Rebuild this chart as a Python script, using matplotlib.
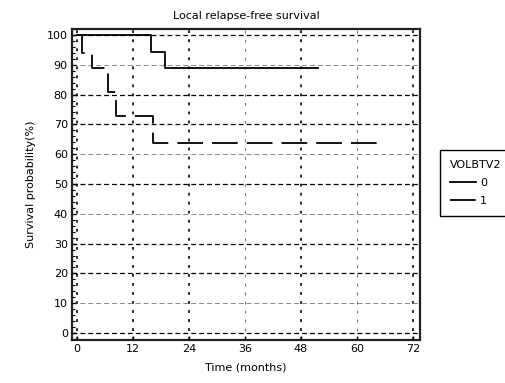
import matplotlib
matplotlib.use("Agg")
import matplotlib.pyplot as plt
from matplotlib.ticker import MultipleLocator

# Kaplan-Meier step values (time in months, survival in %)
time_0 = [0, 15.8, 18.8, 51.6]
surv_0 = [100, 94.4, 88.9, 88.9]

time_1 = [0, 1.1, 3.3, 6.6, 8.4, 16.2, 64.3]
surv_1 = [100, 94.0, 88.8, 81.0, 72.8, 63.7, 63.7]

group_labels = ["0", "1"]
x_ticks = [0, 12, 24, 36, 48, 60, 72]
y_ticks = [0, 10, 20, 30, 40, 50, 60, 70, 80, 90, 100]

plt.rcParams["font.family"] = ["Liberation Sans Narrow", "DejaVu Sans"]
plt.rcParams["font.size"] = 8
plt.rcParams["lines.scale_dashes"] = False

fig = plt.figure(figsize=(5.06, 3.83), dpi=100)
ax = fig.add_axes([72 / 506, 43 / 383, 348 / 506, 311 / 383])

ax.step(time_0, surv_0, where="post", color="black", lw=1.3, label=group_labels[0])
ax.step(time_1, surv_1, where="post", color="black", lw=1.3,
        dashes=(18.5, 6.5), label=group_labels[1])

ax.set_xlim(-1.07, 73.5)
ax.set_ylim(-2.35, 102)
ax.set_xticks(x_ticks)
ax.set_yticks(y_ticks)
ax.yaxis.set_minor_locator(MultipleLocator(2))
ax.tick_params(axis="both", which="major", direction="in", length=3, width=1, pad=3)
ax.tick_params(axis="y", which="minor", direction="in", length=2, width=0.8)

# dashed grid, every other line a bit lighter
ax.grid(True, which="major", axis="y", color="black", lw=0.9, dashes=(3.5, 2.2))
ax.grid(True, which="major", axis="x", color="black", lw=1.2, dashes=(2.0, 4.5))
for val, gl in zip(y_ticks, ax.yaxis.get_gridlines()):
    if val in (10, 40, 60, 90):
        gl.set_color("#888888")
        gl.set_linewidth(0.7)
for val, gl in zip(x_ticks, ax.xaxis.get_gridlines()):
    if val in (36, 60):
        gl.set_color("#777777")
        gl.set_linewidth(0.8)
ax.set_axisbelow(True)

for side in ax.spines.values():
    side.set_linewidth(1.6)
    side.set_color("#222222")

ax.set_title("Local relapse-free survival", fontsize=8, pad=7)
ax.set_xlabel("Time (months)", fontsize=8, labelpad=6)
ax.set_ylabel("Survival probability(%)", fontsize=8, labelpad=8)

leg = ax.legend(title="VOLBTV2", loc="upper left",
                bbox_to_anchor=(440 / 506, 1 - 150 / 383),
                bbox_transform=fig.transFigure, borderaxespad=0,
                fancybox=False, edgecolor="black", framealpha=1,
                fontsize=8, title_fontsize=8,
                handlelength=2.3, handletextpad=0.4, borderpad=0.9,
                labelspacing=0.7, alignment="left")
leg.get_frame().set_linewidth(1.0)

fig.savefig("out.png", dpi=100)
